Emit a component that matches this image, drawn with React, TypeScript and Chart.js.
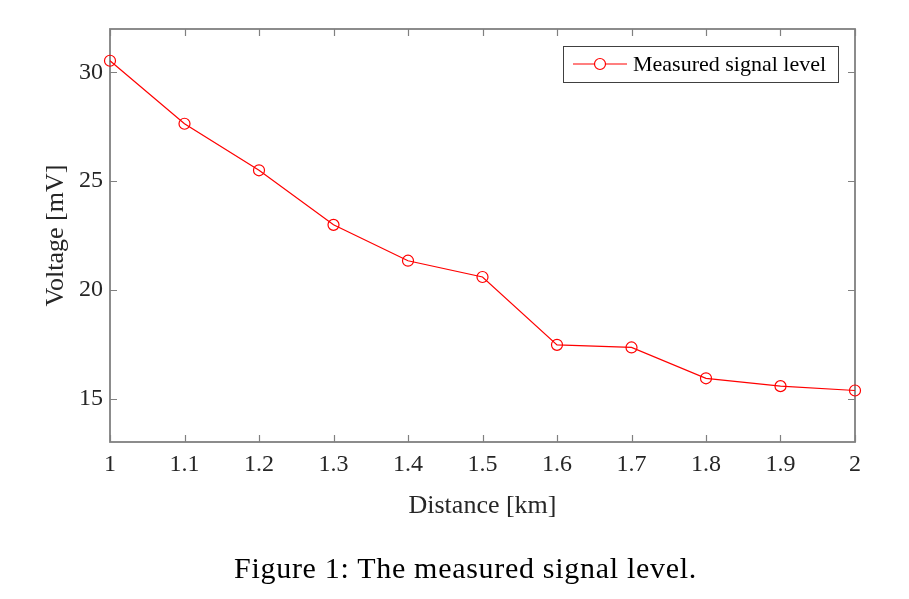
import React, { useEffect, useRef } from "react";
import { Chart, registerables } from "chart.js";

Chart.register(...registerables);

const distances = [1.0, 1.1, 1.2, 1.3, 1.4, 1.5, 1.6, 1.7, 1.8, 1.9, 2.0];
const voltages = [30.54, 27.64, 25.5, 22.99, 21.34, 20.59, 17.47, 17.35, 15.93, 15.57, 15.37];
const xTicks = [1.0, 1.1, 1.2, 1.3, 1.4, 1.5, 1.6, 1.7, 1.8, 1.9, 2.0];
const yTicks = [15, 20, 25, 30];
const seriesLabel = "Measured signal level";
const xTitle = "Distance [km]";
const yTitle = "Voltage [mV]";
const caption = "Figure 1: The measured signal level.";

const SERIF = "'Liberation Serif', 'Times New Roman', serif";
const RED = "rgb(255,0,0)";
const FRAME = "#808080";
const TEXT = "#262626";

const framePlugin = {
  id: "frameTicks",
  beforeDatasetsDraw(chart: any) {
    const { ctx, chartArea } = chart;
    const { left, right, top, bottom } = chartArea;
    const xs = chart.scales.x;
    const ys = chart.scales.y;
    const tl = 7;
    ctx.save();
    ctx.strokeStyle = FRAME;
    ctx.lineWidth = 1.2;
    ctx.beginPath();
    xs.ticks.forEach((t: any) => {
      const px = Math.round(xs.getPixelForValue(t.value)) + 0.5;
      ctx.moveTo(px, bottom);
      ctx.lineTo(px, bottom - tl);
      ctx.moveTo(px, top);
      ctx.lineTo(px, top + tl);
    });
    ys.ticks.forEach((t: any) => {
      const py = Math.round(ys.getPixelForValue(t.value)) + 0.5;
      ctx.moveTo(left, py);
      ctx.lineTo(left + tl, py);
      ctx.moveTo(right, py);
      ctx.lineTo(right - tl, py);
    });
    ctx.stroke();
    ctx.lineWidth = 1.8;
    ctx.strokeRect(left, top, right - left, bottom - top);
    ctx.restore();
  },
};

const legendPlugin = {
  id: "insideLegend",
  afterDraw(chart: any) {
    const { ctx, chartArea } = chart;
    const ds = chart.data.datasets[0];
    const bx1 = chartArea.right - 17;
    const bx0 = chartArea.left + 453;
    const by0 = chartArea.top + 17;
    const by1 = by0 + 36;
    const cy = (by0 + by1) / 2;
    ctx.save();
    ctx.fillStyle = "#ffffff";
    ctx.fillRect(bx0, by0, bx1 - bx0, by1 - by0);
    ctx.strokeStyle = "#404040";
    ctx.lineWidth = 1;
    ctx.strokeRect(bx0 + 0.5, by0 + 0.5, bx1 - bx0, by1 - by0);
    ctx.strokeStyle = RED;
    ctx.lineWidth = 1.2;
    ctx.beginPath();
    ctx.moveTo(bx0 + 10, cy);
    ctx.lineTo(bx0 + 64, cy);
    ctx.stroke();
    ctx.beginPath();
    ctx.arc(bx0 + 37, cy, 5.5, 0, Math.PI * 2);
    ctx.fillStyle = "#ffffff";
    ctx.fill();
    ctx.stroke();
    ctx.fillStyle = "#000000";
    ctx.font = `22px ${SERIF}`;
    ctx.textBaseline = "middle";
    ctx.textAlign = "left";
    ctx.fillText(ds.label, bx0 + 70, cy + 1);
    ctx.restore();
  },
};

export default function App() {
  const ref = useRef<HTMLCanvasElement | null>(null);

  useEffect(() => {
    if (!ref.current) return;
    const chart = new Chart(ref.current, {
      type: "line",
      data: {
        datasets: [
          {
            label: seriesLabel,
            data: distances.map((d, i) => ({ x: d, y: voltages[i] })),
            borderColor: RED,
            borderWidth: 1.2,
            pointStyle: "circle",
            pointRadius: 5.5,
            pointBorderWidth: 1.2,
            pointBorderColor: RED,
            pointBackgroundColor: "rgba(0,0,0,0)",
            tension: 0,
            fill: false,
            clip: false as any,
          },
        ],
      },
      options: {
        responsive: false,
        animation: false,
        layout: { padding: { top: 29, right: 54, left: 0, bottom: 0 } },
        plugins: {
          legend: { display: false },
          tooltip: { enabled: false },
        },
        scales: {
          x: {
            type: "linear",
            min: 1,
            max: 2,
            afterBuildTicks: (s: any) => {
              s.ticks = xTicks.map((v) => ({ value: v }));
            },
            afterFit: (s: any) => {
              s.height = 157;
            },
            grid: { display: false, drawTicks: false },
            border: { display: false },
            ticks: {
              padding: 8,
              color: TEXT,
              font: { family: SERIF, size: 24 },
              maxRotation: 0,
              autoSkip: false,
              callback: (v: any) => String(Number(Number(v).toFixed(1))),
            },
            title: {
              display: true,
              text: xTitle,
              color: TEXT,
              font: { family: SERIF, size: 26 },
              padding: { top: 0, bottom: 77 },
            },
          },
          y: {
            type: "linear",
            min: 13,
            max: 32,
            afterBuildTicks: (s: any) => {
              s.ticks = yTicks.map((v) => ({ value: v }));
            },
            afterFit: (s: any) => {
              s.width = 110;
            },
            grid: { display: false, drawTicks: false },
            border: { display: false },
            ticks: {
              padding: 7,
              color: TEXT,
              font: { family: SERIF, size: 24 },
              autoSkip: false,
            },
            title: {
              display: true,
              text: yTitle,
              color: TEXT,
              font: { family: SERIF, size: 26 },
              padding: { top: 41, bottom: 0 },
            },
          },
        },
      },
      plugins: [framePlugin, legendPlugin],
    });
    return () => chart.destroy();
  }, []);

  return (
    <div style={{ position: "absolute", left: 0, top: 0, width: 909, height: 599, background: "#fff" }}>
      <canvas ref={ref} width={909} height={599} style={{ width: 909, height: 599, display: "block" }} />
      <div
        style={{
          position: "absolute",
          left: 0,
          top: 551,
          width: 909,
          textAlign: "center",
          fontFamily: SERIF,
          fontSize: 30,
          lineHeight: "34px",
          letterSpacing: "0.7px",
          color: "#000",
          paddingLeft: 22,
          boxSizing: "border-box",
        }}
      >
        {caption}
      </div>
    </div>
  );
}
